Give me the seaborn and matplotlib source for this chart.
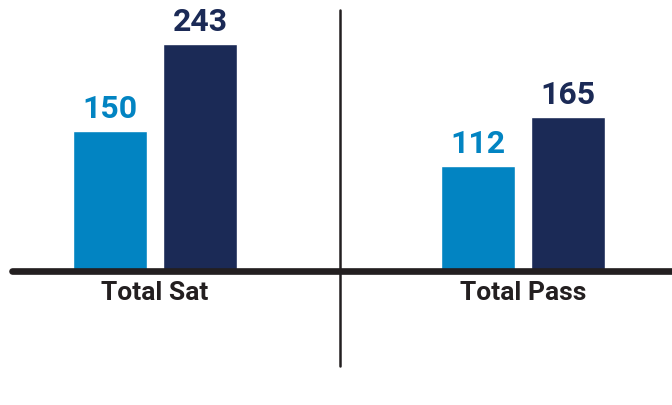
import matplotlib
matplotlib.use("Agg")
import matplotlib.pyplot as plt
from matplotlib.lines import Line2D
import seaborn as sns
import pandas as pd

# Data
groups = ["Total Sat", "Total Pass"]
series = ["Previous", "Current"]
previous_values = [150, 112]
current_values = [243, 165]

light_blue = "#0284C2"
navy = "#1B2A56"
ink = "#231F20"

df = pd.DataFrame({
    "group": groups * 2,
    "series": [series[0]] * len(groups) + [series[1]] * len(groups),
    "value": previous_values + current_values,
})

sns.set_theme(style="white")
plt.rcParams["font.family"] = ["Roboto", "DejaVu Sans"]

fig = plt.figure(figsize=(6.72, 4.05), dpi=100)
ax = fig.add_axes([12 / 672, 1 - 271 / 405, 660 / 672, 271 / 405])

sns.barplot(
    data=df, x="group", y="value", hue="series", order=groups,
    hue_order=series, palette=[light_blue, navy], width=0.489, gap=0.178,
    saturation=1, legend=False, ax=ax,
)

ax.set_xlim(-0.389, 1.405)
ax.set_ylim(0, 290)
ax.set_xlabel("")
ax.set_ylabel("")
ax.set_yticks([])
for s in ax.spines.values():
    s.set_visible(False)
ax.tick_params(axis="x", length=0, pad=7.5, labelsize=19, labelcolor=ink)
for lbl in ax.get_xticklabels():
    lbl.set_fontweight("bold")

# Thick baseline
ax.axhline(0, color=ink, lw=4.8, clip_on=False, zorder=5)

# Value labels above bars
for container, color in zip(ax.containers, [light_blue, navy]):
    ax.bar_label(container, padding=5, color=color, fontsize=23,
                 fontweight="bold")

# Vertical divider between the two groups
fig.add_artist(Line2D([340 / 672, 340 / 672], [1 - 10 / 405, 1 - 366 / 405],
                      color=ink, lw=1.8, transform=fig.transFigure))

fig.savefig("out.png", dpi=100)
